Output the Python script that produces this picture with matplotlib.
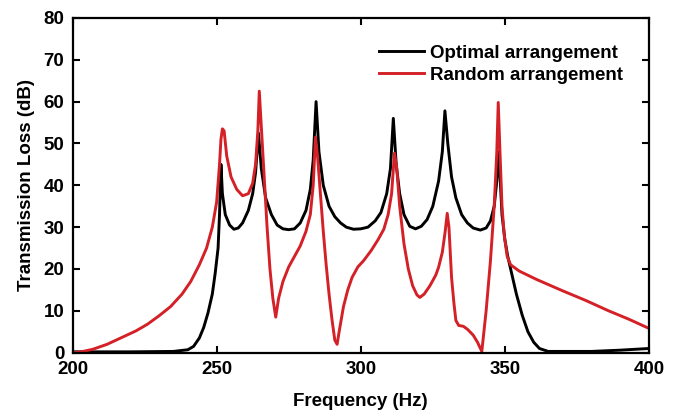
import matplotlib.pyplot as plt

plt.rcParams['font.family'] = ['Liberation Sans', 'DejaVu Sans']
plt.rcParams['font.weight'] = 'bold'

# Optimal arrangement (black)
freq_opt = [200, 220, 235, 240, 242, 244, 245.5, 247, 248.5, 249.5, 250.5, 251, 251.5,
            252, 253, 254.5, 256, 257.5, 259, 261, 262.5, 263.5, 264.5, 265.5, 267, 269,
            271, 273, 275, 277, 279, 281, 282.5, 283.5, 284.5, 285.5, 287, 289, 291, 293,
            295, 297.5, 300, 302.5, 305, 307, 309, 310.3, 311.3, 312.3, 313.5, 315, 317,
            319, 321, 323, 325, 327, 328.3, 329.2, 330.2, 331.5, 333, 335, 337, 339, 341.5,
            343.5, 345, 346.3, 347.2, 347.9, 349, 350, 351, 352.5, 354, 356, 358, 360, 362,
            365, 380, 390, 400]
tl_opt = [0.2, 0.2, 0.3, 0.7, 1.5, 3.5, 6, 9.5, 14, 19, 25, 33, 45,
          38, 33, 30.5, 29.5, 29.8, 31, 34, 38, 43, 52.5, 44, 37, 33,
          30.5, 29.6, 29.4, 29.6, 31, 34, 39, 46, 60, 48, 40, 35, 32.5, 31,
          30, 29.5, 29.6, 30, 31.5, 33.5, 38, 44, 56, 45, 38, 33, 30.2,
          29.6, 30.2, 31.8, 35, 41, 48, 57.8, 50, 42, 37, 33, 31, 29.8, 29.3,
          29.8, 31.5, 35, 41, 48, 33, 27, 23, 18.5, 14, 9, 5, 2.5, 1,
          0.3, 0.3, 0.6, 1.0]

# Random arrangement (red)
freq_rand = [200, 203, 207, 212, 217, 222, 226, 230, 234, 238, 241, 244, 246.5, 248.5,
             250, 251, 251.5, 252, 252.6, 253.5, 255, 257, 259, 261, 262.5, 263.5, 264.3,
             264.8, 265.5, 266.5, 267.5, 268.5, 269.5, 270.5, 271.5, 273, 275, 277, 279,
             281, 282.5, 283.5, 284.3, 285, 286, 287, 288, 289, 290, 291, 291.8, 292.5,
             294, 295.5, 297, 299, 301, 303.6, 306, 308, 309.5, 310.7, 311.7, 312.5, 313.5,
             315, 316.5, 318, 319.5, 320.5, 322, 324, 326, 327, 328.3, 329.3, 330, 330.6,
             331.5, 332.3, 333, 334, 335.6, 337, 339, 340.5, 342, 343.5, 345, 346.3, 347.2,
             347.7, 348.3, 349, 349.8, 350.8, 352, 355, 361, 370, 378, 386, 393, 400]
tl_rand = [0, 0.2, 0.8, 2, 3.6, 5.2, 6.8, 8.8, 11, 14, 17, 21, 25, 30,
           36, 45, 51, 53.5, 53, 47, 42, 39, 37.5, 38, 40.5, 45, 53,
           62.5, 54, 42, 30, 20, 13, 8.5, 13, 17, 20.5, 23, 25.5,
           29, 33, 40, 51.5, 47, 38, 29, 21, 14, 8, 3, 2, 5,
           11, 15, 18, 20.5, 22, 24.4, 27, 29.5, 33, 38, 47.7, 44, 35,
           26, 20, 16, 13.8, 13.2, 14, 16, 18.5, 20.4, 24, 29, 33.3, 30,
           18, 12, 7.7, 6.5, 6.3, 5.6, 4.2, 2.5, 0.3, 10, 22, 35, 48,
           59.8, 48, 35, 28, 23, 21, 19.5, 17.5, 14.8, 12.5, 10, 8, 5.8]

fig = plt.figure(figsize=(6.79, 4.12), dpi=100)
ax = fig.add_axes([0.1068, 0.144, 0.849, 0.8124])

ax.plot(freq_opt, tl_opt, color='black', lw=2.1, label='Optimal arrangement')
ax.plot(freq_rand, tl_rand, color='#d42027', lw=2.1, label='Random arrangement')

ax.set_xlim(200, 400)
ax.set_ylim(0, 80)
ax.set_xticks([200, 250, 300, 350, 400])
ax.set_yticks(range(0, 81, 10))
ax.tick_params(direction='in', top=True, right=True, length=5, width=1.5,
               labelsize=13.5)
ax.tick_params(axis='x', pad=6)
ax.tick_params(axis='y', pad=6)
for s in ax.spines.values():
    s.set_linewidth(1.6)

ax.set_xlabel('Frequency (Hz)', fontsize=13.5, fontweight='bold', labelpad=11)
ax.set_ylabel('Transmission Loss (dB)', fontsize=13.5, fontweight='bold', labelpad=6)

ax.legend(loc='upper right', bbox_to_anchor=(0.955, 0.92), frameon=False,
          borderaxespad=0, borderpad=0, handlelength=2.4, handletextpad=0.3,
          labelspacing=0.25, prop={'weight': 'bold', 'size': 13.5})

fig.savefig('out.png', dpi=100)
